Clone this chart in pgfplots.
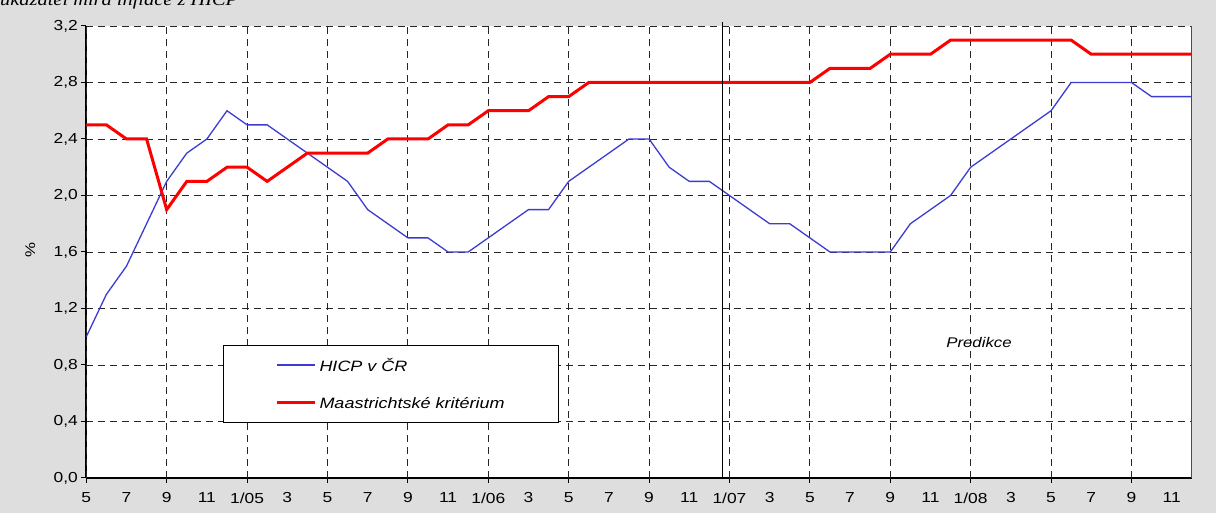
\documentclass[border=0pt]{standalone}
\usepackage{fontspec}
\setmainfont{Liberation Sans}[FakeStretch=1.2]
\newfontfamily\serifit{Liberation Serif}[FakeStretch=1.2]
\usepackage{pgfplots}
\pgfplotsset{compat=1.18}
\definecolor{bg}{RGB}{222,222,222}
\definecolor{hicp}{RGB}{60,60,210}
\definecolor{crit}{RGB}{255,0,0}
\begin{document}
\begin{tikzpicture}
\path[use as bounding box, fill=bg] (-86.3pt,-35pt) rectangle (1129.7pt,478pt);
\begin{axis}[
 at={(0pt,0pt)}, anchor=south west,
 scale only axis, width=1105.5pt, height=452pt,
 xmin=0, xmax=55, ymin=0, ymax=3.2,
 axis lines=left, axis line style={-, line width=2pt, black},
 axis background/.style={fill=white},
 tick align=outside,
 xtick={0,2,...,54},
 xticklabels={5,7,9,11,1/05,3,5,7,9,11,1/06,3,5,7,9,11,1/07,3,5,7,9,11,1/08,3,5,7,9,11},
 xtick style={draw=none},
 xticklabel style={yshift=-6pt},
 extra x ticks={0,4,...,52},
 extra x tick labels={},
 extra x tick style={grid=major, xtick style={draw=black, line width=1pt}, major tick length=5pt},
 ytick={0,0.4,0.8,1.2,1.6,2.0,2.4,2.8,3.2},
 ymajorgrids,
 major grid style={dash pattern=on 7pt off 5pt, black!85, line width=0.9pt},
 ytick style={draw=black, line width=1pt}, major tick length=5pt,
 yticklabel style={/pgf/number format/.cd, fixed, fixed zerofill, precision=1, use comma, assume math mode=true},
 ticklabel style={font=\fontsize{14.5}{17}\selectfont},
 clip=false,
]
\addplot[hicp, line width=1.3pt] table {
0 1.0
1 1.3
2 1.5
3 1.8
4 2.1
5 2.3
6 2.4
7 2.6
8 2.5
9 2.5
10 2.4
11 2.3
12 2.2
13 2.1
14 1.9
15 1.8
16 1.7
17 1.7
18 1.6
19 1.6
20 1.7
21 1.8
22 1.9
23 1.9
24 2.1
25 2.2
26 2.3
27 2.4
28 2.4
29 2.2
30 2.1
31 2.1
32 2.0
33 1.9
34 1.8
35 1.8
36 1.7
37 1.6
38 1.6
39 1.6
40 1.6
41 1.8
42 1.9
43 2.0
44 2.2
45 2.3
46 2.4
47 2.5
48 2.6
49 2.8
50 2.8
51 2.8
52 2.8
53 2.7
54 2.7
55 2.7
};
\addplot[crit, line width=3pt] table {
0 2.5
1 2.5
2 2.4
3 2.4
4 1.9
5 2.1
6 2.1
7 2.2
8 2.2
9 2.1
10 2.2
11 2.3
12 2.3
13 2.3
14 2.3
15 2.4
16 2.4
17 2.4
18 2.5
19 2.5
20 2.6
21 2.6
22 2.6
23 2.7
24 2.7
25 2.8
26 2.8
27 2.8
28 2.8
29 2.8
30 2.8
31 2.8
32 2.8
33 2.8
34 2.8
35 2.8
36 2.8
37 2.9
38 2.9
39 2.9
40 3.0
41 3.0
42 3.0
43 3.1
44 3.1
45 3.1
46 3.1
47 3.1
48 3.1
49 3.1
50 3.0
51 3.0
52 3.0
53 3.0
54 3.0
55 3.0
};
\draw[black!70, line width=1pt] (rel axis cs:1,0) -- (rel axis cs:1,1);
\draw[black, line width=1.2pt] (axis cs:31.65,0) -- (axis cs:31.65,3.225);
\end{axis}
\draw[black, line width=0.8pt, fill=white] (136.7pt,56pt) rectangle (471.7pt,133pt);
\draw[hicp, line width=1.3pt] (190.7pt,113pt) -- (228.7pt,113pt);
\node[anchor=west, inner sep=0pt, font=\itshape\fontsize{15}{18}\selectfont] at (233pt,113pt) {HICP v ČR};
\draw[crit, line width=3pt] (190.7pt,75pt) -- (228.7pt,75pt);
\node[anchor=west, inner sep=0pt, font=\itshape\fontsize{15}{18}\selectfont] at (233pt,75pt) {Maastrichtské kritérium};
\node[inner sep=0pt, font=\itshape\fontsize{14}{17}\selectfont] at (892.7pt,135pt) {Predikce};
\node[rotate=90, inner sep=0pt, font=\fontsize{14}{17}\selectfont] at (-56pt,228pt) {\%};
\node[anchor=base west, inner sep=0pt, font=\serifit\itshape\fontsize{17}{20}\selectfont] at (-86.3pt,472.5pt) {ukazatel míra inflace z HICP};
\end{tikzpicture}
\end{document}
